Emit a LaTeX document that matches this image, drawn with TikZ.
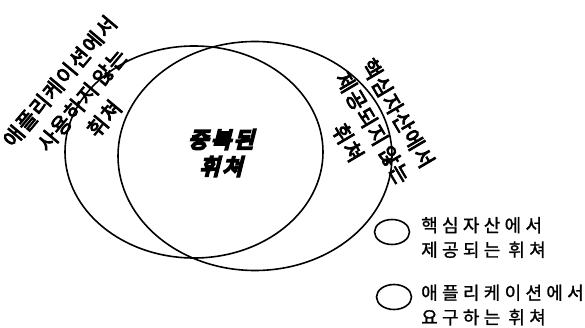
\documentclass[tikz,border=0pt]{standalone}
\usepackage{fontspec}
\usetikzlibrary{shapes.geometric}
\newfontfamily\krlab[FakeBold=4]{Noto Sans CJK KR}
\newfontfamily\krlegend[FakeBold=1.2]{Noto Sans CJK KR}
\newfontfamily\krcenter[FakeBold=10,FakeSlant=0.25]{Noto Sans CJK KR}
% extra space between Hangul syllables
\newdimen\hkern
\XeTeXinterchartokenstate=1
\newXeTeXintercharclass\hangulclass
\count255="AC00
\loop
  \XeTeXcharclass\count255=\hangulclass
  \advance\count255 by 1
\ifnum\count255<"D7A4 \repeat
\XeTeXinterchartoks\hangulclass\hangulclass={\kern\hkern\relax}
\newcommand\labkern{\hkern=1.2pt\relax}
\newcommand\legkern{\hkern=4.3pt\relax\spaceskip=8pt\relax}
\newcommand\cenkern{\hkern=2.5pt\relax}
\begin{document}
\begin{tikzpicture}[x=1pt,y=-1pt,
  setline/.style={draw, ellipse, line width=1.6pt, inner sep=0pt},
  rotlabel/.style={align=center, inner sep=0pt, font=\labkern\krlab\fontsize{21}{29}\selectfont},
  legendtext/.style={align=left, anchor=west, inner sep=0pt, font=\legkern\krlegend\fontsize{18}{24.5}\selectfont},
  centertext/.style={align=center, inner sep=0pt, font=\cenkern\krcenter\fontsize{22}{27}\selectfont}]
\useasboundingbox (0,0) rectangle (585,328);
% main sets
\node[setline, minimum width=258pt, minimum height=212pt] (appset) at (194,152) {};
\node[setline, minimum width=274pt, minimum height=229pt] (coreset) at (255,156) {};
% labels
\node[centertext] (overlap) at (221,153) {중복된\\휘쳐};
\node[rotlabel, rotate=50] (appnotused) at (82,100) {애플리케이션에서\\사용하지 않는\\휘쳐};
\node[rotlabel, rotate=-59.5] (corenotprov) at (373,128) {핵심자산에서\\제공되지 않는\\휘쳐};
% legend
\node[setline, minimum width=35pt, minimum height=25pt] (legcore) at (392,232) {};
\node[setline, minimum width=35pt, minimum height=25pt] (legapp) at (394,297) {};
\node[legendtext] (legcoretext) at (421,237.5) {핵심자산에서\\제공되는 휘쳐};
\node[legendtext] (legapptext) at (421,305) {애플리케이션에서\\요구하는 휘쳐};
\end{tikzpicture}
\end{document}
